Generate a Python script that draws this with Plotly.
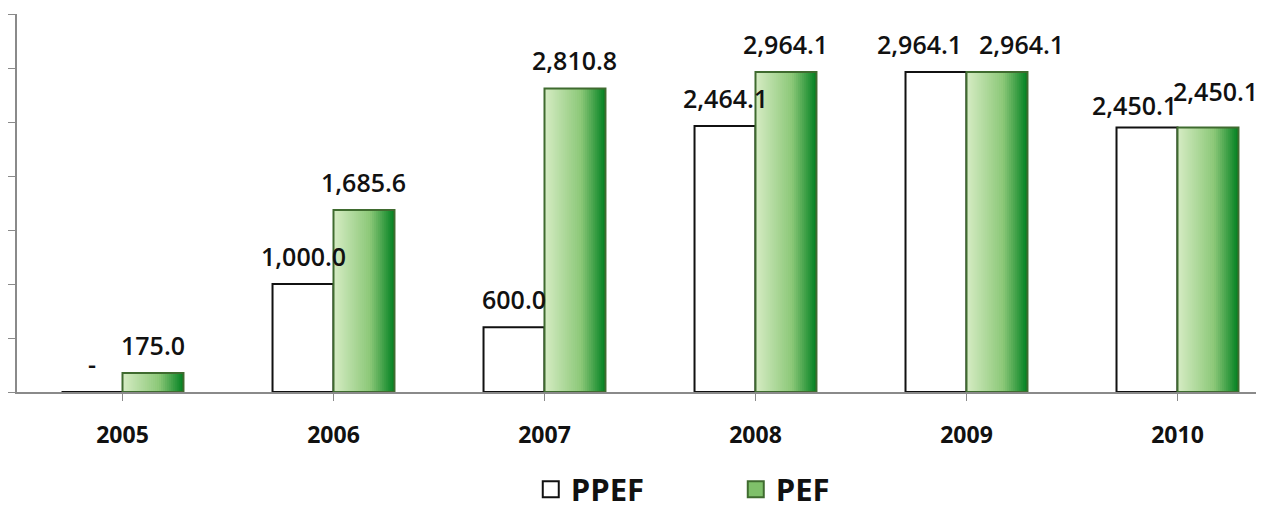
import plotly.graph_objects as go

years = ["2005", "2006", "2007", "2008", "2009", "2010"]
ppef = [0.0, 1000.0, 600.0, 2464.1, 2964.1, 2450.1]
pef = [175.0, 1685.6, 2810.8, 2964.1, 2964.1, 2450.1]
series_names = ["PPEF", "PEF"]

# label nudges (pixels) for a few hand-placed labels
nudge_ppef = {4: (-17, 0), 5: (-13, -6)}
nudge_pef = {4: (25, 0), 5: (8, 8)}

W = 0.289
N = 30
light = (214, 236, 196)
mid = (140, 200, 120)
dark = (0, 128, 32)
FONT = "Open Sans"


def grad(t):
    if t < 0.6:
        u = t / 0.6
        a, b = light, mid
    else:
        u = (t - 0.6) / 0.4
        a, b = mid, dark
    return "rgb(%d,%d,%d)" % tuple(round(a[k] + (b[k] - a[k]) * u) for k in range(3))


fig = go.Figure()
x = list(range(len(years)))

fig.add_trace(go.Bar(x=x, y=ppef, name=series_names[0], width=W, offset=-W, showlegend=False,
                     marker=dict(color="white", line=dict(color="#111111", width=2))))
for i in range(N):
    fig.add_trace(go.Bar(x=x, y=pef, width=(N - i) * W / N, offset=i * W / N,
                         marker=dict(color=grad((i + 0.5) / N), line=dict(width=0)),
                         showlegend=False, hoverinfo="skip"))
fig.add_trace(go.Bar(x=x, y=pef, name=series_names[1], width=W, offset=0, showlegend=False,
                     marker=dict(color="rgba(0,0,0,0)", line=dict(color="#3f6b2f", width=2))))

# legend entries
fig.add_trace(go.Scatter(x=[None], y=[None], mode="markers", name=series_names[0],
                         marker=dict(symbol="square", size=20, color="white",
                                     line=dict(color="#111111", width=2))))
fig.add_trace(go.Scatter(x=[None], y=[None], mode="markers", name=series_names[1],
                         marker=dict(symbol="square", size=20, color="#7fc06a",
                                     line=dict(color="#3f6b2f", width=2))))

ann = []
for vals, nudges, sign in ((ppef, nudge_ppef, -1), (pef, nudge_pef, 1)):
    for i, v in enumerate(vals):
        dx, dy = nudges.get(i, (0, 0))
        ann.append(dict(x=i + sign * W / 2, y=v, text=f"{v:,.1f}" if v else "-",
                        showarrow=False, xref="x", yref="y", yshift=28 + dy, xshift=dx,
                        font=dict(family=FONT, size=25, color="#111111", weight=600)))

fig.update_layout(
    barmode="overlay",
    width=1256, height=509,
    margin=dict(l=9, r=0, t=6, b=116),
    paper_bgcolor="white", plot_bgcolor="white",
    annotations=ann,
    showlegend=True,
    legend=dict(orientation="h", x=0.412, xanchor="left", y=-0.258, yanchor="middle",
                entrywidth=160, entrywidthmode="pixels", itemsizing="trace",
                font=dict(family=FONT, size=31, color="#111111", weight="bold"),
                itemclick=False),
    xaxis=dict(tickmode="array", tickvals=x, ticktext=years,
               range=[-0.5, 5.41], showgrid=False, zeroline=False, automargin=False,
               showline=True, linecolor="#8a8a8a", linewidth=1.5,
               ticks="outside", ticklen=7, tickcolor="#8a8a8a",
               tickson="boundaries", ticklabelstandoff=15,
               tickfont=dict(family=FONT, size=23, color="#111111", weight="bold")),
    yaxis=dict(range=[0, 3500], dtick=500, showgrid=False, zeroline=False, automargin=False,
               showline=True, linecolor="#8a8a8a", linewidth=1.5,
               ticks="outside", ticklen=8, tickcolor="#8a8a8a",
               showticklabels=False),
)

fig.write_html("out.html")
